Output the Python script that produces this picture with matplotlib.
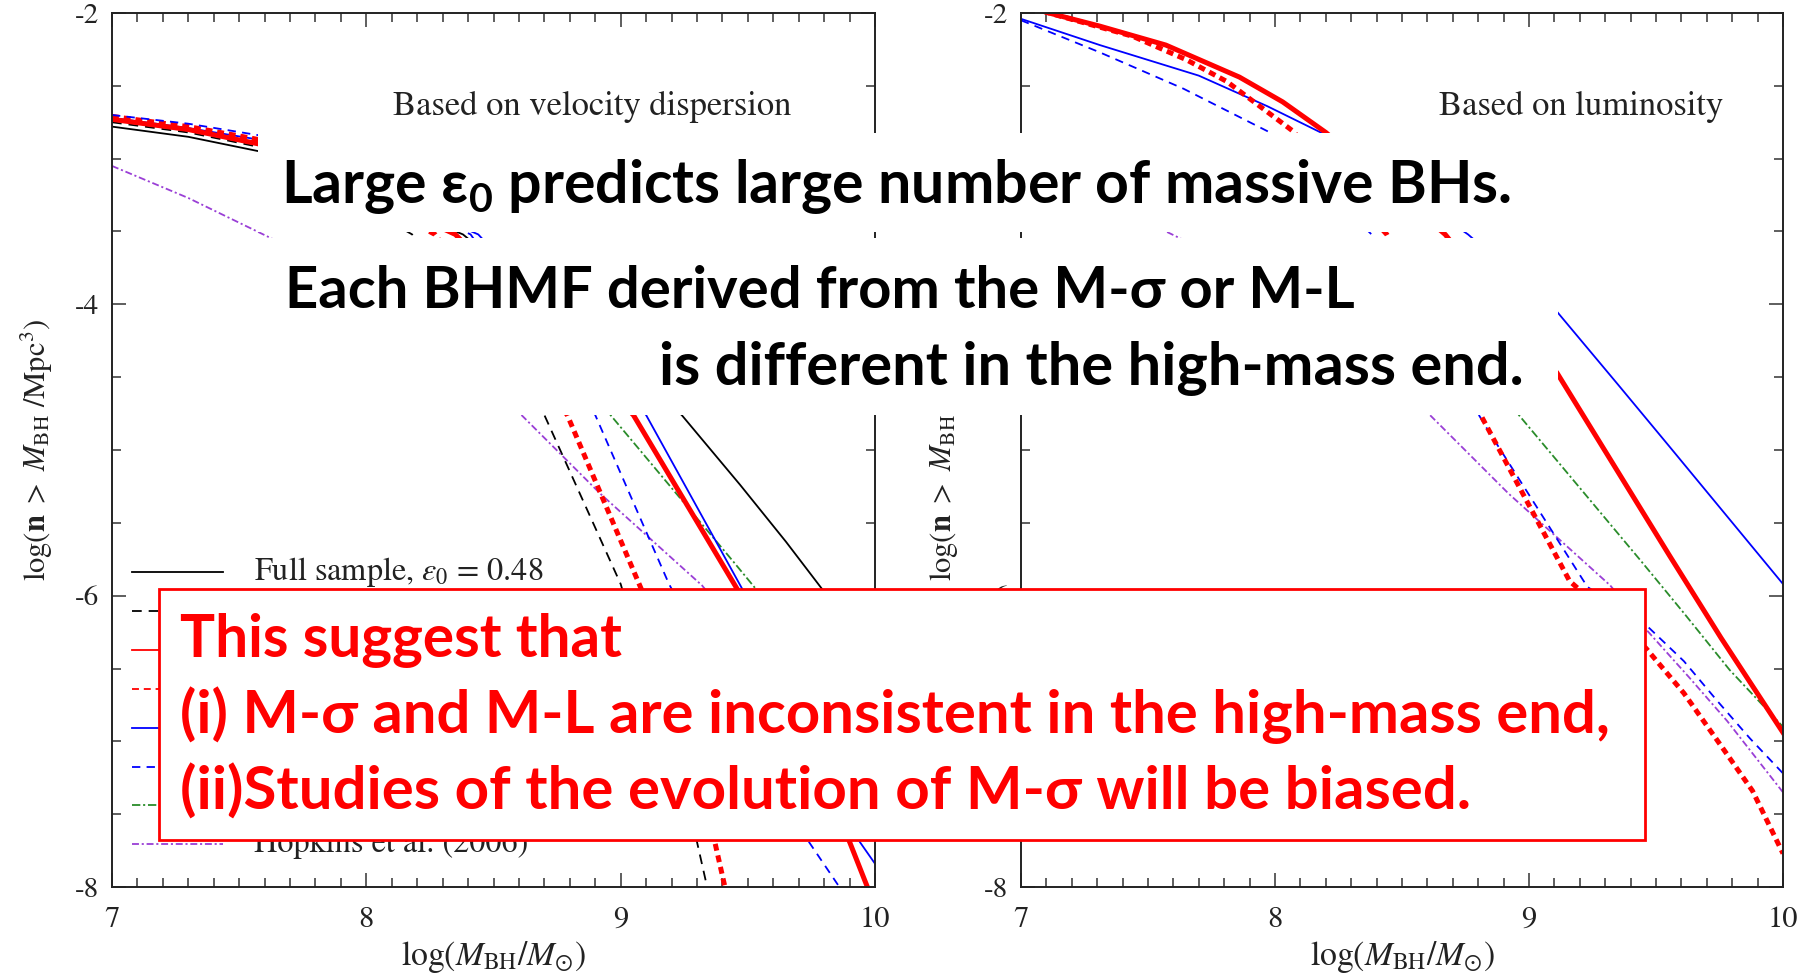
import matplotlib
matplotlib.use("Agg")
import matplotlib.pyplot as plt
from matplotlib.patches import Rectangle
from matplotlib.lines import Line2D
from matplotlib.ticker import MultipleLocator, FormatStrFormatter

plt.rcParams["font.family"] = "STIXGeneral"
plt.rcParams["mathtext.fontset"] = "stix"
plt.rcParams["axes.unicode_minus"] = False
plt.rcParams["lines.scale_dashes"] = False

W, H = 1809, 977  # output size in pixels (dpi 100)

# cumulative BH mass functions: log(M_BH/M_sun) -> log(n > M_BH / Mpc^3)
# left panel, from the velocity dispersion
SIG_FULL_X = [7.0, 7.3, 7.58, 8.38, 9.24, 9.47, 9.65, 9.79, 10.0]
SIG_FULL_Y = [-2.78, -2.85, -2.95, -3.52, -4.76, -5.24, -5.63, -5.95, -6.45]
SIG_FULL0_X = [7.0, 7.3, 7.58, 8.18, 8.70, 9.00, 9.30, 9.34]
SIG_FULL0_Y = [-2.75, -2.82, -2.92, -3.52, -4.76, -5.92, -7.69, -8.00]
SIG_RED_X = [7.0, 7.3, 7.58, 8.35, 9.05, 9.46, 9.90, 9.97]
SIG_RED_Y = [-2.73, -2.80, -2.90, -3.52, -4.76, -5.96, -7.69, -8.00]
SIG_RED0_X = [7.0, 7.3, 7.58, 8.27, 8.79, 9.08, 9.37, 9.41]
SIG_RED0_Y = [-2.71, -2.78, -2.87, -3.52, -4.76, -5.95, -7.69, -8.00]
SIG_BLUE_X = [7.0, 7.3, 7.58, 8.44, 9.10, 9.48, 9.94, 10.0]
SIG_BLUE_Y = [-2.72, -2.79, -2.87, -3.52, -4.76, -5.96, -7.69, -7.84]
SIG_BLUE0_X = [7.0, 7.3, 7.58, 8.41, 8.90, 9.19, 9.74, 9.86]
SIG_BLUE0_Y = [-2.70, -2.76, -2.84, -3.52, -4.76, -5.92, -7.69, -8.00]

# right panel, from the luminosity
LUM_RED_X = [7.0, 7.11, 7.31, 7.57, 7.86, 8.03, 8.20, 8.67, 9.11, 9.555, 9.756, 10.0]
LUM_RED_Y = [-1.94, -2.00, -2.09, -2.22, -2.44, -2.61, -2.82, -3.52, -4.47, -5.73, -6.29, -6.94]
LUM_RED0_X = [7.0, 7.11, 7.44, 7.65, 7.81, 8.07, 8.44, 8.81, 9.16, 9.46, 9.61, 9.76, 9.88, 10.0]
LUM_RED0_Y = [-1.94, -2.00, -2.16, -2.32, -2.47, -2.81, -3.52, -4.76, -5.90, -6.36, -6.67, -7.04, -7.34, -7.77]
LUM_BLUE_X = [7.0, 7.31, 7.70, 7.97, 8.18, 8.76, 9.11, 9.35, 9.55, 10.0]
LUM_BLUE_Y = [-2.04, -2.22, -2.43, -2.64, -2.82, -3.52, -4.05, -4.55, -4.97, -5.92]
LUM_BLUE0_X = [7.0, 7.31, 7.64, 7.98, 8.38, 8.83, 9.23, 9.46, 9.61, 9.74, 9.87, 10.0]
LUM_BLUE0_Y = [-2.05, -2.27, -2.52, -2.82, -3.52, -4.84, -5.94, -6.20, -6.45, -6.72, -6.98, -7.22]

# literature curves, same in both panels
GREEN_X = [8.50, 8.96, 9.44, 9.61, 9.79, 10.0]
GREEN_Y = [-3.90, -4.76, -5.76, -6.12, -6.51, -6.90]
HOPKINS_X = [7.0, 7.3, 7.63, 8.61, 8.92, 9.32, 9.46, 9.63, 9.78, 10.0]
HOPKINS_Y = [-3.05, -3.27, -3.55, -4.76, -5.30, -5.93, -6.23, -6.56, -6.86, -7.35]

LEGEND_LABELS = ["Full sample, $\\varepsilon_0$ = 0.48", None, None, None,
                 None, None, None, "Hopkins et al. (2006)"]

BLACK, RED, BLUE = "#000000", "#ff0000", "#0000ff"
GREEN, PURPLE = "#2a8c2a", "#9a3fd6"
THIN, THICK = 1.3, 3.6
STYLE = {
    "full":   dict(color=BLACK, lw=THIN, ls="-"),
    "full0":  dict(color=BLACK, lw=THIN, ls=(0, (7, 5))),
    "red":    dict(color=RED, lw=THICK, ls="-"),
    "red0":   dict(color=RED, lw=THICK, ls=(0, (5, 3.5))),
    "blue":   dict(color=BLUE, lw=THIN, ls="-"),
    "blue0":  dict(color=BLUE, lw=THIN, ls=(0, (6, 4.5))),
    "green":  dict(color=GREEN, lw=THIN, ls=(0, (6, 2, 1.5, 2))),
    "purple": dict(color=PURPLE, lw=THIN, ls=(0, (5, 2, 1.5, 2))),
}
LEGEND_ORDER = ["full", "full0", "red", "red0", "blue", "blue0", "green", "purple"]

fig = plt.figure(figsize=(W / 100, H / 100), dpi=100)
fig.patch.set_facecolor("white")
renderer = fig.canvas.get_renderer()


def fit(t, width_px):
    w = t.get_window_extent(renderer).width
    t.set_fontsize(t.get_fontsize() * width_px / w)


def style_axes(ax):
    ax.set_xlim(7, 10)
    ax.set_ylim(-8, -2)
    ax.xaxis.set_major_locator(MultipleLocator(1))
    ax.xaxis.set_minor_locator(MultipleLocator(0.1))
    ax.yaxis.set_major_locator(MultipleLocator(2))
    ax.yaxis.set_minor_locator(MultipleLocator(0.5))
    ax.xaxis.set_major_formatter(FormatStrFormatter("%d"))
    ax.yaxis.set_major_formatter(FormatStrFormatter("%d"))
    ax.tick_params(which="both", direction="in", top=True, right=True,
                   color="#333333", width=1.1, labelcolor="#222222")
    ax.tick_params(which="major", length=10)
    ax.tick_params(which="minor", length=6.5)
    ax.tick_params(axis="x", labelsize=22, pad=14)
    ax.tick_params(axis="y", labelsize=21, pad=9)
    for sp in ax.spines.values():
        sp.set_linewidth(1.4)
        sp.set_color("#222222")
    ax.set_xlabel(r"$\log(M_{\rm BH}/M_{\odot})$", fontsize=22, color="#222222")
    ax.set_ylabel(r"$\log(\mathbf{n}\ >\ M_{\rm BH}\ /{\rm Mpc}^3)$", fontsize=22,
                  color="#222222")
    ax.xaxis.set_label_coords(0.5, -0.06)


axL = fig.add_axes([112 / W, 1 - 887 / H, 763 / W, 874 / H])
axR = fig.add_axes([1021 / W, 1 - 887 / H, 762 / W, 874 / H])
for ax in (axL, axR):
    style_axes(ax)
axL.yaxis.set_label_coords(-0.075, 0.5)
axR.yaxis.set_label_coords(-0.079, 0.5)

# velocity dispersion panel
axL.plot(SIG_FULL_X, SIG_FULL_Y, **STYLE["full"])
axL.plot(SIG_FULL0_X, SIG_FULL0_Y, **STYLE["full0"])
axL.plot(HOPKINS_X, HOPKINS_Y, **STYLE["purple"])
axL.plot(GREEN_X, GREEN_Y, **STYLE["green"])
axL.plot(SIG_BLUE_X, SIG_BLUE_Y, **STYLE["blue"])
axL.plot(SIG_RED_X, SIG_RED_Y, **STYLE["red"])
axL.plot(SIG_RED0_X, SIG_RED0_Y, **STYLE["red0"])
axL.plot(SIG_BLUE0_X, SIG_BLUE0_Y, **STYLE["blue0"])

# luminosity panel
axR.plot(HOPKINS_X, HOPKINS_Y, **STYLE["purple"])
axR.plot(GREEN_X, GREEN_Y, **STYLE["green"])
axR.plot(LUM_BLUE_X, LUM_BLUE_Y, **STYLE["blue"])
axR.plot(LUM_BLUE0_X, LUM_BLUE0_Y, **STYLE["blue0"])
axR.plot(LUM_RED_X, LUM_RED_Y, **STYLE["red"])
axR.plot(LUM_RED0_X, LUM_RED0_Y, **STYLE["red0"])

tL = axL.text(0.629, 0.892, "Based on velocity dispersion", transform=axL.transAxes,
              ha="center", va="center", fontsize=22, color="#222222")
tR = axR.text(0.735, 0.892, "Based on luminosity", transform=axR.transAxes,
              ha="center", va="center", fontsize=22, color="#222222")
fit(tL, 399)
fit(tR, 285)

# hand-drawn legend in the lower left of the left panel
row0, step = 572, 38.9
leg_texts = []
for i, key in enumerate(LEGEND_ORDER):
    st = dict(STYLE[key])
    st["lw"] = THIN
    yy = 1 - (row0 + i * step - 13) / 874
    axL.add_line(Line2D([0.026, 0.145], [yy, yy], transform=axL.transAxes, **st))
    if LEGEND_LABELS[i]:
        leg_texts.append(axL.text(0.186, yy, LEGEND_LABELS[i], transform=axL.transAxes,
                                  ha="left", va="center", fontsize=20, color="#222222"))
fit(leg_texts[0], 289)
for t in leg_texts[1:]:
    t.set_fontsize(leg_texts[0].get_fontsize())

for ax in (axL, axR):
    ax.xaxis.label.set_fontsize(22)
fit(axL.xaxis.label, 185)
axR.xaxis.label.set_fontsize(axL.xaxis.label.get_fontsize())


# white annotation boxes over the panels (pixel boxes, y from the top)
def box(x0, y0, x1, y1, edge=None):
    fig.add_artist(Rectangle((x0 / W, 1 - y1 / H), (x1 - x0) / W, (y1 - y0) / H,
                             transform=fig.transFigure, facecolor="white",
                             edgecolor=edge if edge else "none",
                             lw=2.0 if edge else 0, zorder=5))


box(258, 133, 1545, 232)
box(262, 238, 1558, 415)
box(159, 589, 1645, 840, edge="#ff0000")

OVL = dict(family=["Lato", "DejaVu Sans"], weight="bold", fontsize=40, zorder=7,
           ha="left", va="baseline")


def line(s, x0, base, x1, color):
    t = fig.text(x0 / W, 1 - base / H, s, color=color, **OVL)
    fit(t, x1 - x0)
    return t


line("Large $\\mathregular{ε_0}$ predicts large number of massive BHs.", 281, 203, 1510, "black")
line("Each BHMF derived from the M-σ or M-L", 285, 308, 1355, "black")
line("is different in the high-mass end.", 659, 385, 1522, "black")
line("This suggest that", 180, 657, 623, "#ff0000")
line("(i) M-σ and M-L are inconsistent in the high-mass end,", 180, 733, 1608, "#ff0000")
line("(ii)Studies of the evolution of M-σ will be biased.", 180, 810, 1471, "#ff0000")

fig.savefig("out.png", dpi=100, facecolor="white")
